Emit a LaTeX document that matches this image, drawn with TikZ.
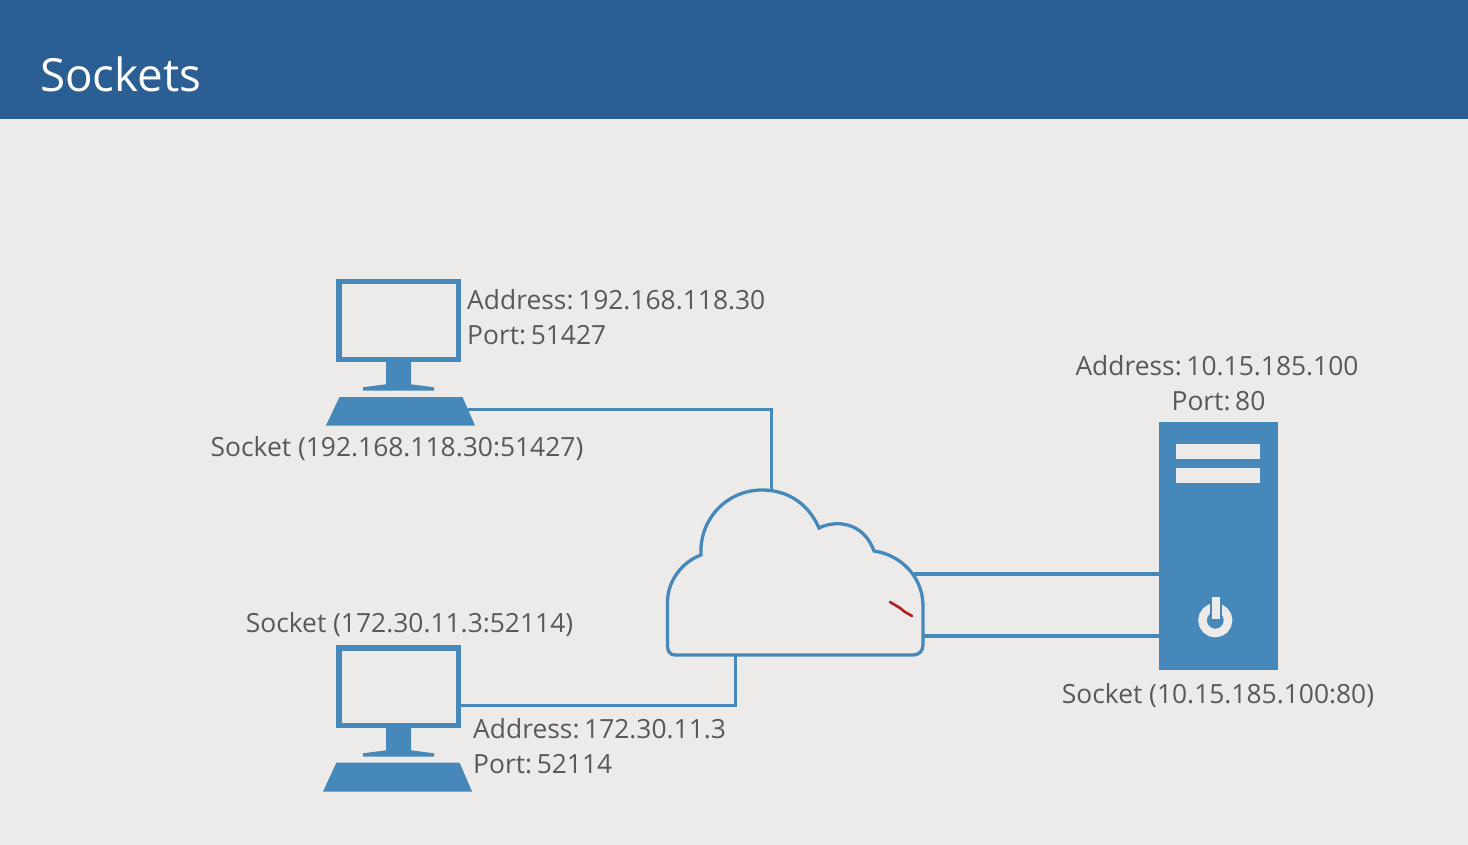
\documentclass[tikz,border=0pt]{standalone}
\usepackage{fontspec}
\setmainfont{Open Sans}
\definecolor{bg}{HTML}{ECEBEA}
\definecolor{hdr}{HTML}{2B5F94}
\definecolor{blu}{HTML}{4688BA}
\definecolor{txt}{HTML}{595959}
\definecolor{redm}{HTML}{B02020}
\newcommand{\colgap}{\kern-4.5pt}
\tikzset{
  x=1pt,y=-1pt,
  lbl/.style={text=txt,font=\fontsize{26.4}{30}\selectfont,inner sep=0pt,anchor=base west},
  lblc/.style={text=txt,font=\fontsize{26.4}{30}\selectfont,inner sep=0pt,anchor=base},
  wire/.style={draw=blu,line width=3.3pt,line join=miter},
  screen/.style={draw=blu,line width=5.5pt,minimum width=119.5pt,minimum height=77.5pt,inner sep=0pt,anchor=center},
  slot/.style={fill=bg,draw=none,minimum width=83.5pt,inner sep=0pt},
}
\newcommand{\standshape}[1]{%
  \fill[blu] (386,362+#1) -- (411,362+#1) -- (411,384.3+#1) -- (434,387.3+#1) -- (434,390.5+#1) -- (363,390.5+#1) -- (363,387.3+#1) -- (386,384.3+#1) -- cycle;}
\begin{document}
\begin{tikzpicture}
\useasboundingbox (0,0) rectangle (1468,845);
\fill[bg] (0,0) rectangle (1468,845);
\fill[hdr] (0,0) rectangle (1468,119);
\node[text=white,font=\fontsize{45.7}{50}\selectfont,inner sep=0pt,anchor=base west] (title) at (40,91.5) {Sockets};

% client 1
\node[screen] (mon1) at (398.5,320.5) {};
\standshape{0}
\fill[blu] (339.5,397) -- (462.5,397) -- (475,425.5) -- (326,425.5) -- cycle;
\coordinate (kb1) at (468,409.5);
% client 2
\node[screen] (mon2) at (398.5,686.5) {};
\standshape{366}
\fill[blu] (336.5,762.5) -- (459.5,762.5) -- (472,791.5) -- (323,791.5) -- cycle;

% server
\node[fill=blu,draw=none,minimum width=119pt,minimum height=248pt,inner sep=0pt] (server) at (1218.3,545.5) {};
\node[slot,minimum height=14.5pt] (slotA) at (1218,451.3) {};
\node[slot,minimum height=15pt] (slotB) at (1218,475.5) {};
\draw[bg,line width=8.5pt] (1215.3,620.3) circle[radius=12.8];
\draw[blu,line width=12pt] (1215.7,600) -- (1215.7,616);
\draw[bg,line width=8pt] (1215.7,597) -- (1215.7,618.5);

% cloud
\draw[blu,line width=3.3pt,line join=miter]
  (675,655) .. controls (670,655) and (667.5,651) .. (667.5,646)
  -- (667.5,602)
  .. controls (667.5,581) and (682,562) .. (701,555)
  .. controls (699,519) and (727,490) .. (762,490)
  .. controls (787,490) and (808,503) .. (819,528)
  .. controls (835,520) and (863,521) .. (874,551)
  .. controls (902,555) and (923,578) .. (923,606)
  -- (923,645)
  .. controls (923,651) and (919,655) .. (913,655)
  -- cycle;
\coordinate (cloudTop) at (771.5,490.5);
\coordinate (cloudBot) at (735.5,655);
\coordinate (cloudR1) at (914,574);
\coordinate (cloudR2) at (923,636);

% connectors
\draw[wire] (kb1) -| (cloudTop);
\draw[wire] (mon2.east |- 0,705.3) -| (cloudBot);
\draw[wire] (cloudR1) -- (cloudR1 -| server.west);
\draw[wire] (cloudR2) -- (cloudR2 -| server.west);

% pointer mark
\draw[redm,line width=2.6pt,line cap=round] (890,602) -- (900,608) -- (905,612) -- (912,616);

% labels
\node[lbl] (a1) at (467,309.2) {Address:\colgap{} 192.168.118.30};
\node[lbl] (p1) at (467,344.2) {Port:\colgap{} 51427};
\node[lblc] (s1) at (397,456.7) {Socket (192.168.118.30:51427)};
\node[lblc] (s2) at (409.5,632.5) {Socket (172.30.11.3:52114)};
\node[lbl] (a2) at (473,738.3) {Address:\colgap{} 172.30.11.3};
\node[lbl] (p2) at (473,773.3) {Port:\colgap{} 52114};
\node[lblc] (a3) at (1217,375.6) {Address:\colgap{} 10.15.185.100};
\node[lblc] (p3) at (1218.5,410.6) {Port:\colgap{} 80};
\node[lblc] (s3) at (1218,703.2) {Socket (10.15.185.100:80)};
\end{tikzpicture}
\end{document}
